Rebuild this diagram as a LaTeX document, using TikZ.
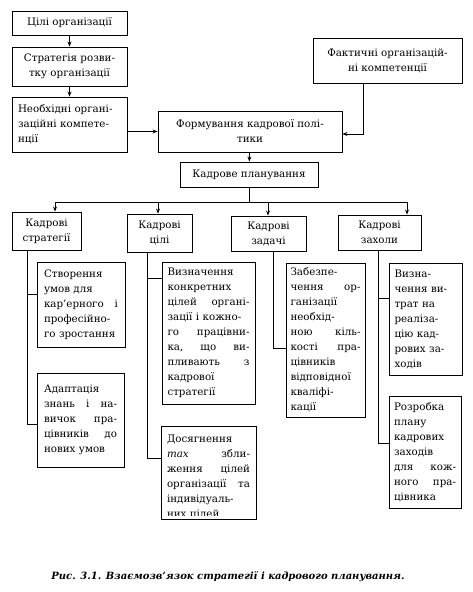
\documentclass[tikz,border=0pt]{standalone}
\usepackage{fontspec}
\setmainfont{DejaVu Serif}
\usetikzlibrary{arrows.meta,calc}
\begin{document}
\begin{tikzpicture}[x=1pt,y=-1pt,line width=0.9pt,
  box/.style={draw,inner sep=0pt,font=\fontsize{10.3}{15}\selectfont},
  cbox/.style={box,align=center},
  tbox/.style={box,align=left,text width=#1},
  arr/.style={-{Stealth[length=5pt,width=4pt]}},
  captext/.style={font=\fontsize{10}{14}\selectfont\bfseries\itshape}
]
\useasboundingbox (0,0) rectangle (472,592);
% top column
\node[cbox,minimum width=115,minimum height=24] (goals) at (69.5,23) {Цілі організації};
\node[cbox,minimum width=115,minimum height=39] (strat) at (69.5,66.5) {Стратегія розви-\\тку організації};
\node[tbox=103,minimum width=115,minimum height=55] (need) at (69.5,124.5) {Необхідні органі-\\заційні компете-\\нції};
\node[cbox,minimum width=149,minimum height=45] (fact) at (387.5,60.5) {Фактичні організацій-\\ні компетенції};
\node[cbox,minimum width=184,minimum height=41] (form) at (250,131.5) {Формування кадрової полі-\\тики};
\node[cbox,minimum width=138,minimum height=25] (plan) at (249,174.5) {Кадрове планування};
% level 2
\node[cbox,minimum width=69,minimum height=38] (kstrat) at (46.5,231) {Кадрові\\стратегії};
\node[cbox,minimum width=65,minimum height=38] (kgoal) at (159.5,233) {Кадрові\\цілі};
\node[cbox,minimum width=75,minimum height=35] (ktask) at (268.5,233.5) {Кадрові\\задачі};
\node[cbox,minimum width=83,minimum height=35] (kmeas) at (379.5,232.5) {Кадрові\\захоли};
% level 3
\node[tbox=74,minimum width=88,minimum height=85] (b1) at (81,304.5)
 {Створення\\умов для\\кар’ерного\hfill і\\професійно-\\го зростання};
\node[tbox=73,minimum width=87,minimum height=94] (b2) at (80.5,420)
 {Адаптація\\знань\hfill і\hfill на-\\вичок\hfill пра-\\цівників\hfill до\\нових умов\\[15pt]};
\node[tbox=82,minimum width=93,minimum height=142] (b3) at (208.5,333)
 {Визначення\\конкретних\\цілей\hfill органі-\\зації і кожно-\\го\hfill працівни-\\ка,\hfill що\hfill ви-\\пливають\hfill з\\кадрової\\стратегії};
\node[box,minimum width=95,minimum height=93] (b4) at (208.5,472.5) {};
\begin{scope}
\clip (150,420) rectangle (270,515.5);
\node[box,draw=none,align=left,text width=83,anchor=north west] (b4t) at ([xshift=6pt,yshift=-9pt]b4.north west)
 {Досягнення\\\textit{max}\hfill збли-\\ження\hfill цілей\\організації\hfill та\\індивідуаль-\\них цілей};
\end{scope}
\node[tbox=70,minimum width=79,minimum height=154] (b5) at (325.5,340)
 {Забезпе-\\чення\hfill ор-\\ганізації\\необхід-\\ною\hfill кіль-\\кості\hfill пра-\\цівників\\відповідної\\кваліфі-\\кації};
\node[tbox=62,minimum width=73,minimum height=112] (b6) at (425.5,319)
 {Визна-\\чення ви-\\трат на\\реаліза-\\цію кад-\\рових за-\\ходів};
\node[tbox=62,minimum width=72,minimum height=112] (b7) at (425,452)
 {Розробка\\плану\\кадрових\\заходів\\для\hfill кож-\\ного\hfill пра-\\цівника};
% caption
\node[captext] (caption) at (228,577) {Рис. 3.1. Взаємозв’язок стратегії і кадрового планування.};
% helper coordinates
\coordinate (xa) at (55,202);
\coordinate (xb) at (158,202);
\coordinate (xc) at (268,202);
\coordinate (xd) at (407,202);
\coordinate (xm) at (249,202);
\coordinate (xf) at (363,0);
\coordinate (t1) at (27,0);
\coordinate (t2) at (147,0);
\coordinate (t3) at (273,0);
\coordinate (t4) at (378,0);
% connectors top
\draw[arr] (goals) -- (strat);
\draw[arr] (strat) -- (need);
\draw[arr] (need.east |- form.west) -- (form.west);
\draw[arr] (fact.south -| xf) |- ([yshift=-2.5pt]form.east);
\draw[arr] (form) -- (plan);
\draw (plan.south) -- (xm);
\draw (xa) -- (xd);
\draw[arr] (xa) -- (xa |- kstrat.north);
\draw[arr] (xb) -- (xb |- kgoal.north);
\draw[arr] (xc) -- (xc |- ktask.north);
\draw[arr] (xd) -- (xd |- kmeas.north);
% trunks
\draw (kstrat.south -| t1) |- ([yshift=10.5pt]b1.west);
\draw (kstrat.south -| t1) |- ([yshift=-4pt]b2.west);
\draw (kgoal.south -| t2) |- ([yshift=55pt]b3.west);
\draw (kgoal.south -| t2) |- ([yshift=14.5pt]b4.west);
\draw (ktask.south -| t3) |- ([yshift=-8pt]b5.west);
\draw (kmeas.south -| t4) |- ([yshift=21pt]b6.west);
\draw (kmeas.south -| t4) |- ([yshift=9pt]b7.west);
\end{tikzpicture}
\end{document}
